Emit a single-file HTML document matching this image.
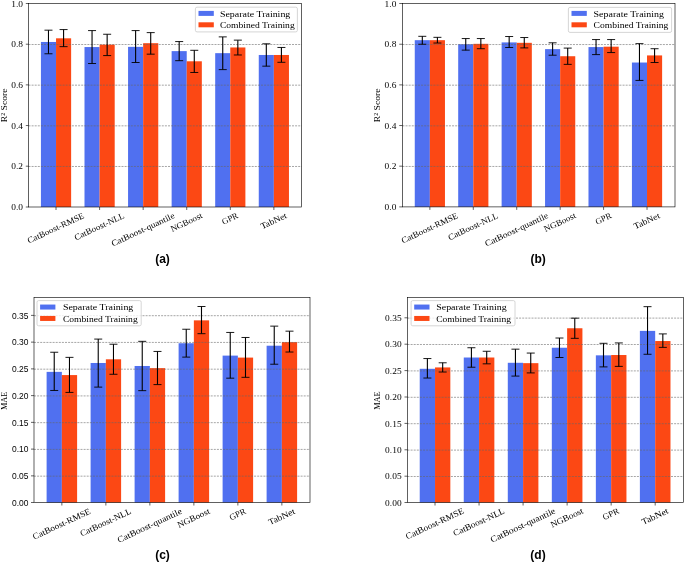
<!DOCTYPE html>
<html><head><meta charset="utf-8"><style>
html,body{margin:0;padding:0;background:#fff;}
body{width:685px;height:563px;overflow:hidden;}
svg{display:block;will-change:transform;}
text{fill:#000;}
</style></head><body>
<svg width="685" height="563" viewBox="0 0 685 563">
<rect width="685" height="563" fill="#fff"/>
<rect x="40.93" y="41.97" width="15.10" height="165.03" fill="#5070f0"/>
<rect x="56.03" y="38.31" width="15.10" height="168.69" fill="#fc4814"/>
<rect x="84.50" y="47.06" width="15.10" height="159.94" fill="#5070f0"/>
<rect x="99.60" y="44.62" width="15.10" height="162.38" fill="#fc4814"/>
<rect x="128.06" y="46.85" width="15.10" height="160.15" fill="#5070f0"/>
<rect x="143.16" y="43.19" width="15.10" height="163.81" fill="#fc4814"/>
<rect x="171.63" y="51.12" width="15.10" height="155.88" fill="#5070f0"/>
<rect x="186.73" y="61.29" width="15.10" height="145.71" fill="#fc4814"/>
<rect x="215.19" y="53.16" width="15.10" height="153.84" fill="#5070f0"/>
<rect x="230.29" y="47.46" width="15.10" height="159.54" fill="#fc4814"/>
<rect x="258.76" y="54.98" width="15.10" height="152.02" fill="#5070f0"/>
<rect x="273.86" y="54.98" width="15.10" height="152.02" fill="#fc4814"/>
<line x1="28.50" y1="166.49" x2="301.50" y2="166.49" stroke="#666" stroke-opacity="0.62" stroke-width="0.95" stroke-dasharray="2.0 1.1"/>
<line x1="28.50" y1="125.83" x2="301.50" y2="125.83" stroke="#666" stroke-opacity="0.62" stroke-width="0.95" stroke-dasharray="2.0 1.1"/>
<line x1="28.50" y1="85.17" x2="301.50" y2="85.17" stroke="#666" stroke-opacity="0.62" stroke-width="0.95" stroke-dasharray="2.0 1.1"/>
<line x1="28.50" y1="44.51" x2="301.50" y2="44.51" stroke="#666" stroke-opacity="0.62" stroke-width="0.95" stroke-dasharray="2.0 1.1"/>
<line x1="48.48" y1="53.77" x2="48.48" y2="30.18" stroke="#000" stroke-width="1.1"/>
<line x1="44.48" y1="53.77" x2="52.48" y2="53.77" stroke="#000" stroke-width="0.9"/>
<line x1="44.48" y1="30.18" x2="52.48" y2="30.18" stroke="#000" stroke-width="0.9"/>
<line x1="63.58" y1="46.65" x2="63.58" y2="29.57" stroke="#000" stroke-width="1.1"/>
<line x1="59.58" y1="46.65" x2="67.58" y2="46.65" stroke="#000" stroke-width="0.9"/>
<line x1="59.58" y1="29.57" x2="67.58" y2="29.57" stroke="#000" stroke-width="0.9"/>
<line x1="92.05" y1="63.52" x2="92.05" y2="30.59" stroke="#000" stroke-width="1.1"/>
<line x1="88.05" y1="63.52" x2="96.05" y2="63.52" stroke="#000" stroke-width="0.9"/>
<line x1="88.05" y1="30.59" x2="96.05" y2="30.59" stroke="#000" stroke-width="0.9"/>
<line x1="107.15" y1="55.59" x2="107.15" y2="34.25" stroke="#000" stroke-width="1.1"/>
<line x1="103.15" y1="55.59" x2="111.15" y2="55.59" stroke="#000" stroke-width="0.9"/>
<line x1="103.15" y1="34.25" x2="111.15" y2="34.25" stroke="#000" stroke-width="0.9"/>
<line x1="135.61" y1="62.51" x2="135.61" y2="30.59" stroke="#000" stroke-width="1.1"/>
<line x1="131.61" y1="62.51" x2="139.61" y2="62.51" stroke="#000" stroke-width="0.9"/>
<line x1="131.61" y1="30.59" x2="139.61" y2="30.59" stroke="#000" stroke-width="0.9"/>
<line x1="150.71" y1="54.17" x2="150.71" y2="32.62" stroke="#000" stroke-width="1.1"/>
<line x1="146.71" y1="54.17" x2="154.71" y2="54.17" stroke="#000" stroke-width="0.9"/>
<line x1="146.71" y1="32.62" x2="154.71" y2="32.62" stroke="#000" stroke-width="0.9"/>
<line x1="179.18" y1="60.68" x2="179.18" y2="41.57" stroke="#000" stroke-width="1.1"/>
<line x1="175.18" y1="60.68" x2="183.18" y2="60.68" stroke="#000" stroke-width="0.9"/>
<line x1="175.18" y1="41.57" x2="183.18" y2="41.57" stroke="#000" stroke-width="0.9"/>
<line x1="194.28" y1="72.47" x2="194.28" y2="50.31" stroke="#000" stroke-width="1.1"/>
<line x1="190.28" y1="72.47" x2="198.28" y2="72.47" stroke="#000" stroke-width="0.9"/>
<line x1="190.28" y1="50.31" x2="198.28" y2="50.31" stroke="#000" stroke-width="0.9"/>
<line x1="222.74" y1="69.62" x2="222.74" y2="36.89" stroke="#000" stroke-width="1.1"/>
<line x1="218.74" y1="69.62" x2="226.74" y2="69.62" stroke="#000" stroke-width="0.9"/>
<line x1="218.74" y1="36.89" x2="226.74" y2="36.89" stroke="#000" stroke-width="0.9"/>
<line x1="237.84" y1="54.98" x2="237.84" y2="40.14" stroke="#000" stroke-width="1.1"/>
<line x1="233.84" y1="54.98" x2="241.84" y2="54.98" stroke="#000" stroke-width="0.9"/>
<line x1="233.84" y1="40.14" x2="241.84" y2="40.14" stroke="#000" stroke-width="0.9"/>
<line x1="266.31" y1="66.17" x2="266.31" y2="43.80" stroke="#000" stroke-width="1.1"/>
<line x1="262.31" y1="66.17" x2="270.31" y2="66.17" stroke="#000" stroke-width="0.9"/>
<line x1="262.31" y1="43.80" x2="270.31" y2="43.80" stroke="#000" stroke-width="0.9"/>
<line x1="281.41" y1="62.30" x2="281.41" y2="47.46" stroke="#000" stroke-width="1.1"/>
<line x1="277.41" y1="62.30" x2="285.41" y2="62.30" stroke="#000" stroke-width="0.9"/>
<line x1="277.41" y1="47.46" x2="285.41" y2="47.46" stroke="#000" stroke-width="0.9"/>
<rect x="28.50" y="3.50" width="273.00" height="203.50" fill="none" stroke="#000" stroke-width="0.62"/>
<line x1="25.80" y1="207.00" x2="28.50" y2="207.00" stroke="#000" stroke-width="0.62"/>
<text x="23.00" y="210.20" font-family='"Liberation Serif", serif' font-size="8.1" text-anchor="end" textLength="11.77" lengthAdjust="spacingAndGlyphs">0.0</text>
<line x1="25.80" y1="166.19" x2="28.50" y2="166.19" stroke="#000" stroke-width="0.62"/>
<text x="23.00" y="169.39" font-family='"Liberation Serif", serif' font-size="8.1" text-anchor="end" textLength="11.77" lengthAdjust="spacingAndGlyphs">0.2</text>
<line x1="25.80" y1="125.53" x2="28.50" y2="125.53" stroke="#000" stroke-width="0.62"/>
<text x="23.00" y="128.73" font-family='"Liberation Serif", serif' font-size="8.1" text-anchor="end" textLength="11.77" lengthAdjust="spacingAndGlyphs">0.4</text>
<line x1="25.80" y1="84.87" x2="28.50" y2="84.87" stroke="#000" stroke-width="0.62"/>
<text x="23.00" y="88.07" font-family='"Liberation Serif", serif' font-size="8.1" text-anchor="end" textLength="11.77" lengthAdjust="spacingAndGlyphs">0.6</text>
<line x1="25.80" y1="44.21" x2="28.50" y2="44.21" stroke="#000" stroke-width="0.62"/>
<text x="23.00" y="47.41" font-family='"Liberation Serif", serif' font-size="8.1" text-anchor="end" textLength="11.77" lengthAdjust="spacingAndGlyphs">0.8</text>
<line x1="25.80" y1="3.50" x2="28.50" y2="3.50" stroke="#000" stroke-width="0.62"/>
<text x="23.00" y="6.70" font-family='"Liberation Serif", serif' font-size="8.1" text-anchor="end" textLength="11.77" lengthAdjust="spacingAndGlyphs">1.0</text>
<line x1="56.03" y1="207.00" x2="56.03" y2="210.00" stroke="#000" stroke-width="0.62"/>
<text class="xl" transform="translate(56.03,228.61) rotate(-25)" x="0" y="2.13" font-family='"Liberation Serif", serif' font-size="8.53" text-anchor="middle" textLength="61.51" lengthAdjust="spacingAndGlyphs">CatBoost-RMSE</text>
<line x1="99.60" y1="207.00" x2="99.60" y2="210.00" stroke="#000" stroke-width="0.62"/>
<text class="xl" transform="translate(99.60,227.03) rotate(-25)" x="0" y="2.13" font-family='"Liberation Serif", serif' font-size="8.53" text-anchor="middle" textLength="54.04" lengthAdjust="spacingAndGlyphs">CatBoost-NLL</text>
<line x1="143.16" y1="207.00" x2="143.16" y2="210.00" stroke="#000" stroke-width="0.62"/>
<text class="xl" transform="translate(143.16,230.15) rotate(-25)" x="0" y="2.13" font-family='"Liberation Serif", serif' font-size="8.53" text-anchor="middle" textLength="68.80" lengthAdjust="spacingAndGlyphs">CatBoost-quantile</text>
<line x1="186.73" y1="207.00" x2="186.73" y2="210.00" stroke="#000" stroke-width="0.62"/>
<text class="xl" transform="translate(186.73,222.83) rotate(-25)" x="0" y="2.13" font-family='"Liberation Serif", serif' font-size="8.53" text-anchor="middle" textLength="34.19" lengthAdjust="spacingAndGlyphs">NGBoost</text>
<line x1="230.29" y1="207.00" x2="230.29" y2="210.00" stroke="#000" stroke-width="0.62"/>
<text class="xl" transform="translate(230.29,219.16) rotate(-25)" x="0" y="2.13" font-family='"Liberation Serif", serif' font-size="8.53" text-anchor="middle" textLength="16.80" lengthAdjust="spacingAndGlyphs">GPR</text>
<line x1="273.86" y1="207.00" x2="273.86" y2="210.00" stroke="#000" stroke-width="0.62"/>
<text class="xl" transform="translate(273.86,221.50) rotate(-25)" x="0" y="2.13" font-family='"Liberation Serif", serif' font-size="8.53" text-anchor="middle" textLength="27.89" lengthAdjust="spacingAndGlyphs">TabNet</text>
<text transform="translate(4.10,105.30) rotate(-90)" x="0" y="2.67" font-family='"Liberation Serif", serif' font-size="8.1" text-anchor="middle" textLength="33.78" lengthAdjust="spacingAndGlyphs">R² Score</text>
<rect x="195.40" y="7.20" width="102.00" height="24.70" rx="1.6" fill="#fff" fill-opacity="0.8" stroke="#cccccc" stroke-width="0.8"/>
<rect x="198.50" y="10.90" width="15.3" height="5.0" fill="#5070f0"/>
<text x="219.90" y="16.50" font-family='"Liberation Serif", serif' font-size="8.5" textLength="70.44" lengthAdjust="spacingAndGlyphs">Separate Training</text>
<rect x="198.50" y="22.30" width="15.3" height="5.0" fill="#fc4814"/>
<text x="219.90" y="27.90" font-family='"Liberation Serif", serif' font-size="8.5" textLength="74.80" lengthAdjust="spacingAndGlyphs">Combined Training</text>
<text x="162.50" y="262.90" font-family='"Liberation Sans", sans-serif' font-weight="bold" font-size="12" text-anchor="middle">(a)</text>
<rect x="414.76" y="40.18" width="15.10" height="166.72" fill="#5070f0"/>
<rect x="429.86" y="40.18" width="15.10" height="166.72" fill="#fc4814"/>
<rect x="458.19" y="44.24" width="15.10" height="162.66" fill="#5070f0"/>
<rect x="473.29" y="43.83" width="15.10" height="163.07" fill="#fc4814"/>
<rect x="501.62" y="42.41" width="15.10" height="164.49" fill="#5070f0"/>
<rect x="516.72" y="42.82" width="15.10" height="164.08" fill="#fc4814"/>
<rect x="545.06" y="49.12" width="15.10" height="157.78" fill="#5070f0"/>
<rect x="560.16" y="56.23" width="15.10" height="150.67" fill="#fc4814"/>
<rect x="588.49" y="47.08" width="15.10" height="159.82" fill="#5070f0"/>
<rect x="603.59" y="46.68" width="15.10" height="160.22" fill="#fc4814"/>
<rect x="631.92" y="62.53" width="15.10" height="144.37" fill="#5070f0"/>
<rect x="647.02" y="55.42" width="15.10" height="151.48" fill="#fc4814"/>
<line x1="402.45" y1="166.46" x2="675.00" y2="166.46" stroke="#666" stroke-opacity="0.62" stroke-width="0.95" stroke-dasharray="2.0 1.1"/>
<line x1="402.45" y1="125.82" x2="675.00" y2="125.82" stroke="#666" stroke-opacity="0.62" stroke-width="0.95" stroke-dasharray="2.0 1.1"/>
<line x1="402.45" y1="85.18" x2="675.00" y2="85.18" stroke="#666" stroke-opacity="0.62" stroke-width="0.95" stroke-dasharray="2.0 1.1"/>
<line x1="402.45" y1="44.54" x2="675.00" y2="44.54" stroke="#666" stroke-opacity="0.62" stroke-width="0.95" stroke-dasharray="2.0 1.1"/>
<line x1="422.31" y1="44.24" x2="422.31" y2="36.32" stroke="#000" stroke-width="1.1"/>
<line x1="418.31" y1="44.24" x2="426.31" y2="44.24" stroke="#000" stroke-width="0.9"/>
<line x1="418.31" y1="36.32" x2="426.31" y2="36.32" stroke="#000" stroke-width="0.9"/>
<line x1="437.41" y1="43.02" x2="437.41" y2="37.33" stroke="#000" stroke-width="1.1"/>
<line x1="433.41" y1="43.02" x2="441.41" y2="43.02" stroke="#000" stroke-width="0.9"/>
<line x1="433.41" y1="37.33" x2="441.41" y2="37.33" stroke="#000" stroke-width="0.9"/>
<line x1="465.74" y1="50.13" x2="465.74" y2="38.55" stroke="#000" stroke-width="1.1"/>
<line x1="461.74" y1="50.13" x2="469.74" y2="50.13" stroke="#000" stroke-width="0.9"/>
<line x1="461.74" y1="38.55" x2="469.74" y2="38.55" stroke="#000" stroke-width="0.9"/>
<line x1="480.84" y1="48.71" x2="480.84" y2="38.55" stroke="#000" stroke-width="1.1"/>
<line x1="476.84" y1="48.71" x2="484.84" y2="48.71" stroke="#000" stroke-width="0.9"/>
<line x1="476.84" y1="38.55" x2="484.84" y2="38.55" stroke="#000" stroke-width="0.9"/>
<line x1="509.17" y1="47.49" x2="509.17" y2="36.52" stroke="#000" stroke-width="1.1"/>
<line x1="505.17" y1="47.49" x2="513.17" y2="47.49" stroke="#000" stroke-width="0.9"/>
<line x1="505.17" y1="36.52" x2="513.17" y2="36.52" stroke="#000" stroke-width="0.9"/>
<line x1="524.27" y1="47.90" x2="524.27" y2="37.53" stroke="#000" stroke-width="1.1"/>
<line x1="520.27" y1="47.90" x2="528.27" y2="47.90" stroke="#000" stroke-width="0.9"/>
<line x1="520.27" y1="37.53" x2="528.27" y2="37.53" stroke="#000" stroke-width="0.9"/>
<line x1="552.61" y1="55.21" x2="552.61" y2="42.82" stroke="#000" stroke-width="1.1"/>
<line x1="548.61" y1="55.21" x2="556.61" y2="55.21" stroke="#000" stroke-width="0.9"/>
<line x1="548.61" y1="42.82" x2="556.61" y2="42.82" stroke="#000" stroke-width="0.9"/>
<line x1="567.71" y1="64.36" x2="567.71" y2="48.10" stroke="#000" stroke-width="1.1"/>
<line x1="563.71" y1="64.36" x2="571.71" y2="64.36" stroke="#000" stroke-width="0.9"/>
<line x1="563.71" y1="48.10" x2="571.71" y2="48.10" stroke="#000" stroke-width="0.9"/>
<line x1="596.04" y1="54.60" x2="596.04" y2="39.57" stroke="#000" stroke-width="1.1"/>
<line x1="592.04" y1="54.60" x2="600.04" y2="54.60" stroke="#000" stroke-width="0.9"/>
<line x1="592.04" y1="39.57" x2="600.04" y2="39.57" stroke="#000" stroke-width="0.9"/>
<line x1="611.14" y1="52.57" x2="611.14" y2="39.57" stroke="#000" stroke-width="1.1"/>
<line x1="607.14" y1="52.57" x2="615.14" y2="52.57" stroke="#000" stroke-width="0.9"/>
<line x1="607.14" y1="39.57" x2="615.14" y2="39.57" stroke="#000" stroke-width="0.9"/>
<line x1="639.47" y1="80.41" x2="639.47" y2="43.63" stroke="#000" stroke-width="1.1"/>
<line x1="635.47" y1="80.41" x2="643.47" y2="80.41" stroke="#000" stroke-width="0.9"/>
<line x1="635.47" y1="43.63" x2="643.47" y2="43.63" stroke="#000" stroke-width="0.9"/>
<line x1="654.57" y1="62.53" x2="654.57" y2="48.71" stroke="#000" stroke-width="1.1"/>
<line x1="650.57" y1="62.53" x2="658.57" y2="62.53" stroke="#000" stroke-width="0.9"/>
<line x1="650.57" y1="48.71" x2="658.57" y2="48.71" stroke="#000" stroke-width="0.9"/>
<rect x="402.45" y="3.50" width="272.55" height="203.40" fill="none" stroke="#000" stroke-width="0.62"/>
<line x1="399.25" y1="206.90" x2="402.45" y2="206.90" stroke="#000" stroke-width="0.62"/>
<text x="396.35" y="210.10" font-family='"Liberation Serif", serif' font-size="8.1" text-anchor="end" textLength="11.77" lengthAdjust="spacingAndGlyphs">0.0</text>
<line x1="399.25" y1="166.16" x2="402.45" y2="166.16" stroke="#000" stroke-width="0.62"/>
<text x="396.35" y="169.36" font-family='"Liberation Serif", serif' font-size="8.1" text-anchor="end" textLength="11.77" lengthAdjust="spacingAndGlyphs">0.2</text>
<line x1="399.25" y1="125.52" x2="402.45" y2="125.52" stroke="#000" stroke-width="0.62"/>
<text x="396.35" y="128.72" font-family='"Liberation Serif", serif' font-size="8.1" text-anchor="end" textLength="11.77" lengthAdjust="spacingAndGlyphs">0.4</text>
<line x1="399.25" y1="84.88" x2="402.45" y2="84.88" stroke="#000" stroke-width="0.62"/>
<text x="396.35" y="88.08" font-family='"Liberation Serif", serif' font-size="8.1" text-anchor="end" textLength="11.77" lengthAdjust="spacingAndGlyphs">0.6</text>
<line x1="399.25" y1="44.24" x2="402.45" y2="44.24" stroke="#000" stroke-width="0.62"/>
<text x="396.35" y="47.44" font-family='"Liberation Serif", serif' font-size="8.1" text-anchor="end" textLength="11.77" lengthAdjust="spacingAndGlyphs">0.8</text>
<line x1="399.25" y1="3.50" x2="402.45" y2="3.50" stroke="#000" stroke-width="0.62"/>
<text x="396.35" y="6.70" font-family='"Liberation Serif", serif' font-size="8.1" text-anchor="end" textLength="11.77" lengthAdjust="spacingAndGlyphs">1.0</text>
<line x1="429.86" y1="206.90" x2="429.86" y2="209.90" stroke="#000" stroke-width="0.62"/>
<text class="xl" transform="translate(429.86,228.61) rotate(-25)" x="0" y="2.13" font-family='"Liberation Serif", serif' font-size="8.53" text-anchor="middle" textLength="61.51" lengthAdjust="spacingAndGlyphs">CatBoost-RMSE</text>
<line x1="473.29" y1="206.90" x2="473.29" y2="209.90" stroke="#000" stroke-width="0.62"/>
<text class="xl" transform="translate(473.29,227.03) rotate(-25)" x="0" y="2.13" font-family='"Liberation Serif", serif' font-size="8.53" text-anchor="middle" textLength="54.04" lengthAdjust="spacingAndGlyphs">CatBoost-NLL</text>
<line x1="516.72" y1="206.90" x2="516.72" y2="209.90" stroke="#000" stroke-width="0.62"/>
<text class="xl" transform="translate(516.72,230.15) rotate(-25)" x="0" y="2.13" font-family='"Liberation Serif", serif' font-size="8.53" text-anchor="middle" textLength="68.80" lengthAdjust="spacingAndGlyphs">CatBoost-quantile</text>
<line x1="560.16" y1="206.90" x2="560.16" y2="209.90" stroke="#000" stroke-width="0.62"/>
<text class="xl" transform="translate(560.16,222.83) rotate(-25)" x="0" y="2.13" font-family='"Liberation Serif", serif' font-size="8.53" text-anchor="middle" textLength="34.19" lengthAdjust="spacingAndGlyphs">NGBoost</text>
<line x1="603.59" y1="206.90" x2="603.59" y2="209.90" stroke="#000" stroke-width="0.62"/>
<text class="xl" transform="translate(603.59,219.16) rotate(-25)" x="0" y="2.13" font-family='"Liberation Serif", serif' font-size="8.53" text-anchor="middle" textLength="16.80" lengthAdjust="spacingAndGlyphs">GPR</text>
<line x1="647.02" y1="206.90" x2="647.02" y2="209.90" stroke="#000" stroke-width="0.62"/>
<text class="xl" transform="translate(647.02,221.50) rotate(-25)" x="0" y="2.13" font-family='"Liberation Serif", serif' font-size="8.53" text-anchor="middle" textLength="27.89" lengthAdjust="spacingAndGlyphs">TabNet</text>
<text transform="translate(377.40,105.30) rotate(-90)" x="0" y="2.67" font-family='"Liberation Serif", serif' font-size="8.1" text-anchor="middle" textLength="33.78" lengthAdjust="spacingAndGlyphs">R² Score</text>
<rect x="568.40" y="7.40" width="103.20" height="25.00" rx="1.6" fill="#fff" fill-opacity="0.8" stroke="#cccccc" stroke-width="0.8"/>
<rect x="571.50" y="10.90" width="15.3" height="5.0" fill="#5070f0"/>
<text x="593.60" y="16.50" font-family='"Liberation Serif", serif' font-size="8.5" textLength="70.44" lengthAdjust="spacingAndGlyphs">Separate Training</text>
<rect x="571.50" y="22.30" width="15.3" height="5.0" fill="#fc4814"/>
<text x="593.60" y="27.90" font-family='"Liberation Serif", serif' font-size="8.5" textLength="74.80" lengthAdjust="spacingAndGlyphs">Combined Training</text>
<text x="538.20" y="263.20" font-family='"Liberation Sans", sans-serif' font-weight="bold" font-size="12" text-anchor="middle">(b)</text>
<rect x="46.61" y="371.87" width="15.25" height="130.63" fill="#5070f0"/>
<rect x="61.86" y="375.08" width="15.25" height="127.42" fill="#fc4814"/>
<rect x="90.61" y="362.99" width="15.25" height="139.51" fill="#5070f0"/>
<rect x="105.86" y="359.30" width="15.25" height="143.20" fill="#fc4814"/>
<rect x="134.61" y="365.99" width="15.25" height="136.51" fill="#5070f0"/>
<rect x="149.86" y="368.13" width="15.25" height="134.37" fill="#fc4814"/>
<rect x="178.61" y="343.25" width="15.25" height="159.25" fill="#5070f0"/>
<rect x="193.86" y="320.36" width="15.25" height="182.14" fill="#fc4814"/>
<rect x="222.61" y="355.61" width="15.25" height="146.89" fill="#5070f0"/>
<rect x="237.86" y="357.59" width="15.25" height="144.91" fill="#fc4814"/>
<rect x="266.61" y="345.71" width="15.25" height="156.79" fill="#5070f0"/>
<rect x="281.86" y="342.13" width="15.25" height="160.37" fill="#fc4814"/>
<line x1="34.00" y1="476.16" x2="310.00" y2="476.16" stroke="#666" stroke-opacity="0.62" stroke-width="0.95" stroke-dasharray="2.0 1.1"/>
<line x1="34.00" y1="449.41" x2="310.00" y2="449.41" stroke="#666" stroke-opacity="0.62" stroke-width="0.95" stroke-dasharray="2.0 1.1"/>
<line x1="34.00" y1="422.67" x2="310.00" y2="422.67" stroke="#666" stroke-opacity="0.62" stroke-width="0.95" stroke-dasharray="2.0 1.1"/>
<line x1="34.00" y1="395.92" x2="310.00" y2="395.92" stroke="#666" stroke-opacity="0.62" stroke-width="0.95" stroke-dasharray="2.0 1.1"/>
<line x1="34.00" y1="369.18" x2="310.00" y2="369.18" stroke="#666" stroke-opacity="0.62" stroke-width="0.95" stroke-dasharray="2.0 1.1"/>
<line x1="34.00" y1="342.43" x2="310.00" y2="342.43" stroke="#666" stroke-opacity="0.62" stroke-width="0.95" stroke-dasharray="2.0 1.1"/>
<line x1="34.00" y1="315.69" x2="310.00" y2="315.69" stroke="#666" stroke-opacity="0.62" stroke-width="0.95" stroke-dasharray="2.0 1.1"/>
<line x1="54.23" y1="390.48" x2="54.23" y2="352.24" stroke="#000" stroke-width="1.1"/>
<line x1="50.23" y1="390.48" x2="58.23" y2="390.48" stroke="#000" stroke-width="0.9"/>
<line x1="50.23" y1="352.24" x2="58.23" y2="352.24" stroke="#000" stroke-width="0.9"/>
<line x1="69.48" y1="392.41" x2="69.48" y2="357.37" stroke="#000" stroke-width="1.1"/>
<line x1="65.48" y1="392.41" x2="73.48" y2="392.41" stroke="#000" stroke-width="0.9"/>
<line x1="65.48" y1="357.37" x2="73.48" y2="357.37" stroke="#000" stroke-width="0.9"/>
<line x1="98.23" y1="387.12" x2="98.23" y2="339.08" stroke="#000" stroke-width="1.1"/>
<line x1="94.23" y1="387.12" x2="102.23" y2="387.12" stroke="#000" stroke-width="0.9"/>
<line x1="94.23" y1="339.08" x2="102.23" y2="339.08" stroke="#000" stroke-width="0.9"/>
<line x1="113.48" y1="374.28" x2="113.48" y2="344.22" stroke="#000" stroke-width="1.1"/>
<line x1="109.48" y1="374.28" x2="117.48" y2="374.28" stroke="#000" stroke-width="0.9"/>
<line x1="109.48" y1="344.22" x2="117.48" y2="344.22" stroke="#000" stroke-width="0.9"/>
<line x1="142.24" y1="390.65" x2="142.24" y2="341.33" stroke="#000" stroke-width="1.1"/>
<line x1="138.24" y1="390.65" x2="146.24" y2="390.65" stroke="#000" stroke-width="0.9"/>
<line x1="138.24" y1="341.33" x2="146.24" y2="341.33" stroke="#000" stroke-width="0.9"/>
<line x1="157.49" y1="384.60" x2="157.49" y2="351.44" stroke="#000" stroke-width="1.1"/>
<line x1="153.49" y1="384.60" x2="161.49" y2="384.60" stroke="#000" stroke-width="0.9"/>
<line x1="153.49" y1="351.44" x2="161.49" y2="351.44" stroke="#000" stroke-width="0.9"/>
<line x1="186.24" y1="357.11" x2="186.24" y2="329.24" stroke="#000" stroke-width="1.1"/>
<line x1="182.24" y1="357.11" x2="190.24" y2="357.11" stroke="#000" stroke-width="0.9"/>
<line x1="182.24" y1="329.24" x2="190.24" y2="329.24" stroke="#000" stroke-width="0.9"/>
<line x1="201.49" y1="333.68" x2="201.49" y2="306.51" stroke="#000" stroke-width="1.1"/>
<line x1="197.49" y1="333.68" x2="205.49" y2="333.68" stroke="#000" stroke-width="0.9"/>
<line x1="197.49" y1="306.51" x2="205.49" y2="306.51" stroke="#000" stroke-width="0.9"/>
<line x1="230.24" y1="378.18" x2="230.24" y2="332.45" stroke="#000" stroke-width="1.1"/>
<line x1="226.24" y1="378.18" x2="234.24" y2="378.18" stroke="#000" stroke-width="0.9"/>
<line x1="226.24" y1="332.45" x2="234.24" y2="332.45" stroke="#000" stroke-width="0.9"/>
<line x1="245.49" y1="377.33" x2="245.49" y2="337.48" stroke="#000" stroke-width="1.1"/>
<line x1="241.49" y1="377.33" x2="249.49" y2="377.33" stroke="#000" stroke-width="0.9"/>
<line x1="241.49" y1="337.48" x2="249.49" y2="337.48" stroke="#000" stroke-width="0.9"/>
<line x1="274.24" y1="364.22" x2="274.24" y2="326.14" stroke="#000" stroke-width="1.1"/>
<line x1="270.24" y1="364.22" x2="278.24" y2="364.22" stroke="#000" stroke-width="0.9"/>
<line x1="270.24" y1="326.14" x2="278.24" y2="326.14" stroke="#000" stroke-width="0.9"/>
<line x1="289.49" y1="352.03" x2="289.49" y2="331.16" stroke="#000" stroke-width="1.1"/>
<line x1="285.49" y1="352.03" x2="293.49" y2="352.03" stroke="#000" stroke-width="0.9"/>
<line x1="285.49" y1="331.16" x2="293.49" y2="331.16" stroke="#000" stroke-width="0.9"/>
<rect x="34.00" y="297.50" width="276.00" height="205.00" fill="none" stroke="#000" stroke-width="0.62"/>
<line x1="31.00" y1="502.50" x2="34.00" y2="502.50" stroke="#000" stroke-width="0.62"/>
<text x="28.50" y="505.70" font-family='"Liberation Sans", sans-serif' font-size="8.5" text-anchor="end" textLength="16.47" lengthAdjust="spacingAndGlyphs">0.00</text>
<line x1="31.00" y1="475.86" x2="34.00" y2="475.86" stroke="#000" stroke-width="0.62"/>
<text x="28.50" y="479.06" font-family='"Liberation Sans", sans-serif' font-size="8.5" text-anchor="end" textLength="16.47" lengthAdjust="spacingAndGlyphs">0.05</text>
<line x1="31.00" y1="449.11" x2="34.00" y2="449.11" stroke="#000" stroke-width="0.62"/>
<text x="28.50" y="452.31" font-family='"Liberation Sans", sans-serif' font-size="8.5" text-anchor="end" textLength="16.47" lengthAdjust="spacingAndGlyphs">0.10</text>
<line x1="31.00" y1="422.37" x2="34.00" y2="422.37" stroke="#000" stroke-width="0.62"/>
<text x="28.50" y="425.56" font-family='"Liberation Sans", sans-serif' font-size="8.5" text-anchor="end" textLength="16.47" lengthAdjust="spacingAndGlyphs">0.15</text>
<line x1="31.00" y1="395.62" x2="34.00" y2="395.62" stroke="#000" stroke-width="0.62"/>
<text x="28.50" y="398.82" font-family='"Liberation Sans", sans-serif' font-size="8.5" text-anchor="end" textLength="16.47" lengthAdjust="spacingAndGlyphs">0.20</text>
<line x1="31.00" y1="368.88" x2="34.00" y2="368.88" stroke="#000" stroke-width="0.62"/>
<text x="28.50" y="372.07" font-family='"Liberation Sans", sans-serif' font-size="8.5" text-anchor="end" textLength="16.47" lengthAdjust="spacingAndGlyphs">0.25</text>
<line x1="31.00" y1="342.13" x2="34.00" y2="342.13" stroke="#000" stroke-width="0.62"/>
<text x="28.50" y="345.33" font-family='"Liberation Sans", sans-serif' font-size="8.5" text-anchor="end" textLength="16.47" lengthAdjust="spacingAndGlyphs">0.30</text>
<line x1="31.00" y1="315.39" x2="34.00" y2="315.39" stroke="#000" stroke-width="0.62"/>
<text x="28.50" y="318.59" font-family='"Liberation Sans", sans-serif' font-size="8.5" text-anchor="end" textLength="16.47" lengthAdjust="spacingAndGlyphs">0.35</text>
<line x1="61.86" y1="502.50" x2="61.86" y2="505.50" stroke="#000" stroke-width="0.62"/>
<text class="xl" transform="translate(61.86,524.53) rotate(-25)" x="0" y="2.18" font-family='"Liberation Serif", serif' font-size="8.70" text-anchor="middle" textLength="62.73" lengthAdjust="spacingAndGlyphs">CatBoost-RMSE</text>
<line x1="105.86" y1="502.50" x2="105.86" y2="505.50" stroke="#000" stroke-width="0.62"/>
<text class="xl" transform="translate(105.86,522.92) rotate(-25)" x="0" y="2.18" font-family='"Liberation Serif", serif' font-size="8.70" text-anchor="middle" textLength="55.12" lengthAdjust="spacingAndGlyphs">CatBoost-NLL</text>
<line x1="149.86" y1="502.50" x2="149.86" y2="505.50" stroke="#000" stroke-width="0.62"/>
<text class="xl" transform="translate(149.86,526.10) rotate(-25)" x="0" y="2.18" font-family='"Liberation Serif", serif' font-size="8.70" text-anchor="middle" textLength="70.17" lengthAdjust="spacingAndGlyphs">CatBoost-quantile</text>
<line x1="193.86" y1="502.50" x2="193.86" y2="505.50" stroke="#000" stroke-width="0.62"/>
<text class="xl" transform="translate(193.86,518.64) rotate(-25)" x="0" y="2.18" font-family='"Liberation Serif", serif' font-size="8.70" text-anchor="middle" textLength="34.87" lengthAdjust="spacingAndGlyphs">NGBoost</text>
<line x1="237.86" y1="502.50" x2="237.86" y2="505.50" stroke="#000" stroke-width="0.62"/>
<text class="xl" transform="translate(237.86,514.90) rotate(-25)" x="0" y="2.18" font-family='"Liberation Serif", serif' font-size="8.70" text-anchor="middle" textLength="17.13" lengthAdjust="spacingAndGlyphs">GPR</text>
<line x1="281.86" y1="502.50" x2="281.86" y2="505.50" stroke="#000" stroke-width="0.62"/>
<text class="xl" transform="translate(281.86,517.29) rotate(-25)" x="0" y="2.18" font-family='"Liberation Serif", serif' font-size="8.70" text-anchor="middle" textLength="28.44" lengthAdjust="spacingAndGlyphs">TabNet</text>
<text transform="translate(4.50,400.80) rotate(-90)" x="0" y="2.67" font-family='"Liberation Serif", serif' font-size="8.1" text-anchor="middle" textLength="18.32" lengthAdjust="spacingAndGlyphs">MAE</text>
<rect x="37.00" y="300.60" width="104.20" height="25.20" rx="1.6" fill="#fff" fill-opacity="0.8" stroke="#cccccc" stroke-width="0.8"/>
<rect x="40.10" y="304.55" width="15.3" height="5.0" fill="#5070f0"/>
<text x="62.90" y="310.15" font-family='"Liberation Serif", serif' font-size="8.5" textLength="70.44" lengthAdjust="spacingAndGlyphs">Separate Training</text>
<rect x="40.10" y="315.95" width="15.3" height="5.0" fill="#fc4814"/>
<text x="62.90" y="321.55" font-family='"Liberation Serif", serif' font-size="8.5" textLength="74.80" lengthAdjust="spacingAndGlyphs">Combined Training</text>
<text x="162.50" y="559.20" font-family='"Liberation Sans", sans-serif' font-weight="bold" font-size="12" text-anchor="middle">(c)</text>
<rect x="419.73" y="368.80" width="15.30" height="133.70" fill="#5070f0"/>
<rect x="435.03" y="367.43" width="15.30" height="135.07" fill="#fc4814"/>
<rect x="463.76" y="357.51" width="15.30" height="144.99" fill="#5070f0"/>
<rect x="479.06" y="357.51" width="15.30" height="144.99" fill="#fc4814"/>
<rect x="507.79" y="362.79" width="15.30" height="139.71" fill="#5070f0"/>
<rect x="523.09" y="363.16" width="15.30" height="139.34" fill="#fc4814"/>
<rect x="551.82" y="347.74" width="15.30" height="154.76" fill="#5070f0"/>
<rect x="567.12" y="328.25" width="15.30" height="174.25" fill="#fc4814"/>
<rect x="595.85" y="355.34" width="15.30" height="147.16" fill="#5070f0"/>
<rect x="611.15" y="355.02" width="15.30" height="147.48" fill="#fc4814"/>
<rect x="639.88" y="330.89" width="15.30" height="171.61" fill="#5070f0"/>
<rect x="655.18" y="341.03" width="15.30" height="161.47" fill="#fc4814"/>
<line x1="407.50" y1="476.50" x2="683.50" y2="476.50" stroke="#666" stroke-opacity="0.62" stroke-width="0.95" stroke-dasharray="2.0 1.1"/>
<line x1="407.50" y1="450.10" x2="683.50" y2="450.10" stroke="#666" stroke-opacity="0.62" stroke-width="0.95" stroke-dasharray="2.0 1.1"/>
<line x1="407.50" y1="423.70" x2="683.50" y2="423.70" stroke="#666" stroke-opacity="0.62" stroke-width="0.95" stroke-dasharray="2.0 1.1"/>
<line x1="407.50" y1="397.30" x2="683.50" y2="397.30" stroke="#666" stroke-opacity="0.62" stroke-width="0.95" stroke-dasharray="2.0 1.1"/>
<line x1="407.50" y1="370.90" x2="683.50" y2="370.90" stroke="#666" stroke-opacity="0.62" stroke-width="0.95" stroke-dasharray="2.0 1.1"/>
<line x1="407.50" y1="344.50" x2="683.50" y2="344.50" stroke="#666" stroke-opacity="0.62" stroke-width="0.95" stroke-dasharray="2.0 1.1"/>
<line x1="407.50" y1="318.10" x2="683.50" y2="318.10" stroke="#666" stroke-opacity="0.62" stroke-width="0.95" stroke-dasharray="2.0 1.1"/>
<line x1="427.38" y1="378.04" x2="427.38" y2="358.56" stroke="#000" stroke-width="1.1"/>
<line x1="423.38" y1="378.04" x2="431.38" y2="378.04" stroke="#000" stroke-width="0.9"/>
<line x1="423.38" y1="358.56" x2="431.38" y2="358.56" stroke="#000" stroke-width="0.9"/>
<line x1="442.68" y1="372.03" x2="442.68" y2="362.79" stroke="#000" stroke-width="1.1"/>
<line x1="438.68" y1="372.03" x2="446.68" y2="372.03" stroke="#000" stroke-width="0.9"/>
<line x1="438.68" y1="362.79" x2="446.68" y2="362.79" stroke="#000" stroke-width="0.9"/>
<line x1="471.41" y1="367.22" x2="471.41" y2="347.74" stroke="#000" stroke-width="1.1"/>
<line x1="467.41" y1="367.22" x2="475.41" y2="367.22" stroke="#000" stroke-width="0.9"/>
<line x1="467.41" y1="347.74" x2="475.41" y2="347.74" stroke="#000" stroke-width="0.9"/>
<line x1="486.71" y1="363.84" x2="486.71" y2="351.28" stroke="#000" stroke-width="1.1"/>
<line x1="482.71" y1="363.84" x2="490.71" y2="363.84" stroke="#000" stroke-width="0.9"/>
<line x1="482.71" y1="351.28" x2="490.71" y2="351.28" stroke="#000" stroke-width="0.9"/>
<line x1="515.44" y1="376.09" x2="515.44" y2="349.16" stroke="#000" stroke-width="1.1"/>
<line x1="511.44" y1="376.09" x2="519.44" y2="376.09" stroke="#000" stroke-width="0.9"/>
<line x1="511.44" y1="349.16" x2="519.44" y2="349.16" stroke="#000" stroke-width="0.9"/>
<line x1="530.74" y1="372.92" x2="530.74" y2="353.07" stroke="#000" stroke-width="1.1"/>
<line x1="526.74" y1="372.92" x2="534.74" y2="372.92" stroke="#000" stroke-width="0.9"/>
<line x1="526.74" y1="353.07" x2="534.74" y2="353.07" stroke="#000" stroke-width="0.9"/>
<line x1="559.47" y1="357.51" x2="559.47" y2="338.02" stroke="#000" stroke-width="1.1"/>
<line x1="555.47" y1="357.51" x2="563.47" y2="357.51" stroke="#000" stroke-width="0.9"/>
<line x1="555.47" y1="338.02" x2="563.47" y2="338.02" stroke="#000" stroke-width="0.9"/>
<line x1="574.77" y1="338.34" x2="574.77" y2="318.17" stroke="#000" stroke-width="1.1"/>
<line x1="570.77" y1="338.34" x2="578.77" y2="338.34" stroke="#000" stroke-width="0.9"/>
<line x1="570.77" y1="318.17" x2="578.77" y2="318.17" stroke="#000" stroke-width="0.9"/>
<line x1="603.50" y1="366.90" x2="603.50" y2="343.30" stroke="#000" stroke-width="1.1"/>
<line x1="599.50" y1="366.90" x2="607.50" y2="366.90" stroke="#000" stroke-width="0.9"/>
<line x1="599.50" y1="343.30" x2="607.50" y2="343.30" stroke="#000" stroke-width="0.9"/>
<line x1="618.80" y1="366.38" x2="618.80" y2="342.93" stroke="#000" stroke-width="1.1"/>
<line x1="614.80" y1="366.38" x2="622.80" y2="366.38" stroke="#000" stroke-width="0.9"/>
<line x1="614.80" y1="342.93" x2="622.80" y2="342.93" stroke="#000" stroke-width="0.9"/>
<line x1="647.53" y1="354.28" x2="647.53" y2="306.66" stroke="#000" stroke-width="1.1"/>
<line x1="643.53" y1="354.28" x2="651.53" y2="354.28" stroke="#000" stroke-width="0.9"/>
<line x1="643.53" y1="306.66" x2="651.53" y2="306.66" stroke="#000" stroke-width="0.9"/>
<line x1="662.83" y1="347.37" x2="662.83" y2="333.90" stroke="#000" stroke-width="1.1"/>
<line x1="658.83" y1="347.37" x2="666.83" y2="347.37" stroke="#000" stroke-width="0.9"/>
<line x1="658.83" y1="333.90" x2="666.83" y2="333.90" stroke="#000" stroke-width="0.9"/>
<rect x="407.50" y="297.50" width="276.00" height="205.00" fill="none" stroke="#000" stroke-width="0.62"/>
<line x1="404.50" y1="502.50" x2="407.50" y2="502.50" stroke="#000" stroke-width="0.62"/>
<text x="401.60" y="505.70" font-family='"Liberation Serif", serif' font-size="8.1" text-anchor="end" textLength="16.47" lengthAdjust="spacingAndGlyphs">0.00</text>
<line x1="404.50" y1="476.20" x2="407.50" y2="476.20" stroke="#000" stroke-width="0.62"/>
<text x="401.60" y="479.40" font-family='"Liberation Serif", serif' font-size="8.1" text-anchor="end" textLength="16.47" lengthAdjust="spacingAndGlyphs">0.05</text>
<line x1="404.50" y1="449.80" x2="407.50" y2="449.80" stroke="#000" stroke-width="0.62"/>
<text x="401.60" y="453.00" font-family='"Liberation Serif", serif' font-size="8.1" text-anchor="end" textLength="16.47" lengthAdjust="spacingAndGlyphs">0.10</text>
<line x1="404.50" y1="423.40" x2="407.50" y2="423.40" stroke="#000" stroke-width="0.62"/>
<text x="401.60" y="426.60" font-family='"Liberation Serif", serif' font-size="8.1" text-anchor="end" textLength="16.47" lengthAdjust="spacingAndGlyphs">0.15</text>
<line x1="404.50" y1="397.00" x2="407.50" y2="397.00" stroke="#000" stroke-width="0.62"/>
<text x="401.60" y="400.20" font-family='"Liberation Serif", serif' font-size="8.1" text-anchor="end" textLength="16.47" lengthAdjust="spacingAndGlyphs">0.20</text>
<line x1="404.50" y1="370.60" x2="407.50" y2="370.60" stroke="#000" stroke-width="0.62"/>
<text x="401.60" y="373.80" font-family='"Liberation Serif", serif' font-size="8.1" text-anchor="end" textLength="16.47" lengthAdjust="spacingAndGlyphs">0.25</text>
<line x1="404.50" y1="344.20" x2="407.50" y2="344.20" stroke="#000" stroke-width="0.62"/>
<text x="401.60" y="347.40" font-family='"Liberation Serif", serif' font-size="8.1" text-anchor="end" textLength="16.47" lengthAdjust="spacingAndGlyphs">0.30</text>
<line x1="404.50" y1="317.80" x2="407.50" y2="317.80" stroke="#000" stroke-width="0.62"/>
<text x="401.60" y="321.00" font-family='"Liberation Serif", serif' font-size="8.1" text-anchor="end" textLength="16.47" lengthAdjust="spacingAndGlyphs">0.35</text>
<line x1="435.03" y1="502.50" x2="435.03" y2="505.50" stroke="#000" stroke-width="0.62"/>
<text class="xl" transform="translate(435.03,524.24) rotate(-25)" x="0" y="2.19" font-family='"Liberation Serif", serif' font-size="8.76" text-anchor="middle" textLength="63.14" lengthAdjust="spacingAndGlyphs">CatBoost-RMSE</text>
<line x1="479.06" y1="502.50" x2="479.06" y2="505.50" stroke="#000" stroke-width="0.62"/>
<text class="xl" transform="translate(479.06,522.62) rotate(-25)" x="0" y="2.19" font-family='"Liberation Serif", serif' font-size="8.76" text-anchor="middle" textLength="55.47" lengthAdjust="spacingAndGlyphs">CatBoost-NLL</text>
<line x1="523.09" y1="502.50" x2="523.09" y2="505.50" stroke="#000" stroke-width="0.62"/>
<text class="xl" transform="translate(523.09,525.82) rotate(-25)" x="0" y="2.19" font-family='"Liberation Serif", serif' font-size="8.76" text-anchor="middle" textLength="70.63" lengthAdjust="spacingAndGlyphs">CatBoost-quantile</text>
<line x1="567.12" y1="502.50" x2="567.12" y2="505.50" stroke="#000" stroke-width="0.62"/>
<text class="xl" transform="translate(567.12,518.31) rotate(-25)" x="0" y="2.19" font-family='"Liberation Serif", serif' font-size="8.76" text-anchor="middle" textLength="35.09" lengthAdjust="spacingAndGlyphs">NGBoost</text>
<line x1="611.15" y1="502.50" x2="611.15" y2="505.50" stroke="#000" stroke-width="0.62"/>
<text class="xl" transform="translate(611.15,514.54) rotate(-25)" x="0" y="2.19" font-family='"Liberation Serif", serif' font-size="8.76" text-anchor="middle" textLength="17.24" lengthAdjust="spacingAndGlyphs">GPR</text>
<line x1="655.18" y1="502.50" x2="655.18" y2="505.50" stroke="#000" stroke-width="0.62"/>
<text class="xl" transform="translate(655.18,516.95) rotate(-25)" x="0" y="2.19" font-family='"Liberation Serif", serif' font-size="8.76" text-anchor="middle" textLength="28.63" lengthAdjust="spacingAndGlyphs">TabNet</text>
<text transform="translate(377.50,400.70) rotate(-90)" x="0" y="2.67" font-family='"Liberation Serif", serif' font-size="8.1" text-anchor="middle" textLength="18.32" lengthAdjust="spacingAndGlyphs">MAE</text>
<rect x="411.10" y="300.60" width="103.90" height="25.20" rx="1.6" fill="#fff" fill-opacity="0.8" stroke="#cccccc" stroke-width="0.8"/>
<rect x="414.20" y="304.55" width="15.3" height="5.0" fill="#5070f0"/>
<text x="436.20" y="310.15" font-family='"Liberation Serif", serif' font-size="8.5" textLength="70.44" lengthAdjust="spacingAndGlyphs">Separate Training</text>
<rect x="414.20" y="315.95" width="15.3" height="5.0" fill="#fc4814"/>
<text x="436.20" y="321.55" font-family='"Liberation Serif", serif' font-size="8.5" textLength="74.80" lengthAdjust="spacingAndGlyphs">Combined Training</text>
<text x="538.00" y="559.20" font-family='"Liberation Sans", sans-serif' font-weight="bold" font-size="12" text-anchor="middle">(d)</text>
</svg>
</body></html>
